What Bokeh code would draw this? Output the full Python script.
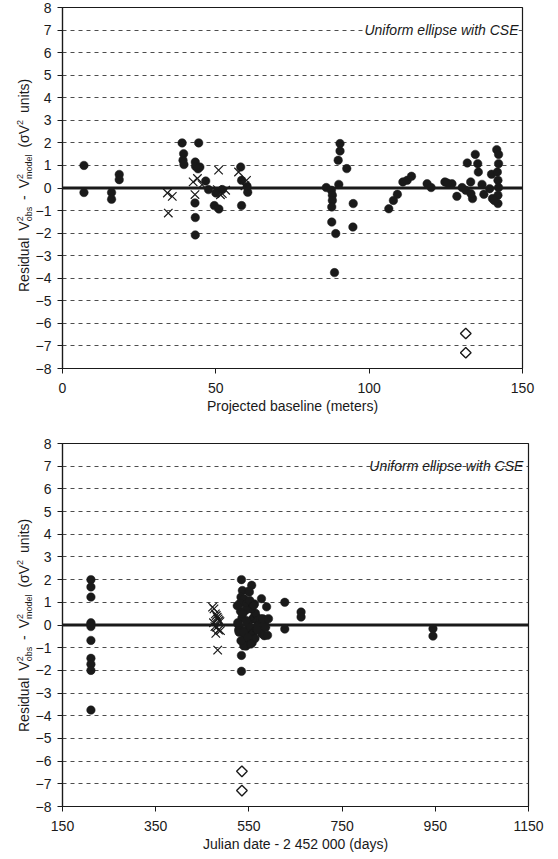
import numpy as np
from bokeh.plotting import figure
from bokeh.models import FixedTicker, Span, Label, Range1d, Div
from bokeh.layouts import column, row
from bokeh.embed import file_html
from bokeh.resources import INLINE

# ---------------- data ----------------
# top panel: projected baseline (m) vs residual
base_circ_x = [7, 7, 16, 16, 18.5, 18.5,
               39.0, 39.5, 39.3, 39.6, 44.4, 43.3, 43.4, 44.8, 44.2, 46.7, 47.6, 43.2,
               43.3, 43.3, 49.5, 51.0, 50.0, 52.1, 58.1, 58.4, 58.4, 60.2, 60.4,
               90.5, 90.5, 89.9, 92.7, 86.0, 87.7, 90.1, 88.0, 88.0, 87.8, 87.8, 89.1,
               88.7, 94.8, 94.7,
               106.4, 107.9, 109.2, 111.0, 112.4, 113.8, 118.9, 120.2, 124.7, 127.0,
               125.5, 128.6, 130.3, 132.0, 133.1, 131.5, 133.7, 134.6, 135.4, 135.6,
               133.2, 136.8, 137.4, 139.3, 139.9, 140.2, 141.6, 142.2, 142.2, 141.8,
               142.0, 142.2, 142.0, 142.0, 140.8]
base_circ_y = [1.0, -0.2, -0.2, -0.5, 0.6, 0.37,
               2.0, 1.52, 1.23, 1.04, 2.0, 1.15, 0.96, 0.93, 0.85, 0.31, -0.07, -0.66,
               -1.31, -2.08, -0.78, -0.93, -0.22, -0.07, 0.93, 0.34, -0.78, 0.07, -0.19,
               1.97, 1.64, 1.23, 0.86, 0.02, -0.1, 0.16, -0.32, -0.55, -0.84, -1.51, -2.02,
               -3.75, -0.69, -1.73,
               -0.92, -0.55, -0.28, 0.27, 0.34, 0.52, 0.19, 0.02, 0.27, 0.19,
               0.22, -0.37, 0.02, 1.11, 0.27, -0.1, -0.47, 1.49, 1.08, 0.71,
               -0.25, 0.16, -0.28, -0.03, 0.61, -0.47, 1.7, 1.49, 1.08, 0.71,
               0.34, 0.02, -0.32, -0.69, -0.55]
base_cross_x = [34.2, 35.8, 34.5, 42.6, 44.0, 43.2, 45.5, 50.9, 50.5, 52.1, 53.2, 51.5, 57.4, 60.0, 59.5]
base_cross_y = [-0.22, -0.37, -1.11, 0.27, 0.42, -0.29, 0.15, 0.79, -0.07, -0.25, -0.1, -0.3, 0.71, 0.34, 0.1]
base_dia_x = [131.5, 131.5]
base_dia_y = [-6.45, -7.3]

# bottom panel: Julian date - 2452000 vs residual
jd_circ_x = [211] * 11 + [
    534, 536, 533, 538, 556, 540, 531, 545, 548, 535, 530, 537, 534, 534, 541, 544,
    528, 550, 562, 566, 557, 570, 573,
    539, 546, 552, 558, 561, 564, 568, 571, 575, 579, 582, 577, 584, 577, 580, 586,
    583, 549, 552, 555, 542, 588, 592, 590, 532, 543, 551, 543, 527, 529, 533, 547,
    553, 559, 563, 567, 537, 544, 525, 526,
    539, 548, 554, 560,
    627, 627, 662, 662, 945, 945]
jd_circ_y = [2.0, 1.68, 1.23, 0.1, 0.03, -0.07, -0.68, -1.47, -1.73, -2.0, -3.75] + [
    2.0, 1.52, 1.23, 1.04, 1.75, 1.15, 0.96, 0.93, 0.85, 0.31, -0.07, -0.66, -1.34, -2.04, -0.78, -0.93,
    -0.22, -0.07, 0.93, 0.34, -0.78, 0.07, -0.19,
    -0.92, -0.55, -0.28, 0.27, 0.34, 0.52, 0.19, 0.02, 0.27, 0.19, 0.22, -0.37, 0.02, 1.16, 0.27, -0.1,
    -0.47, 1.49, 1.08, 0.71, -0.25, 0.8, 0.28, -0.45, 0.61, -0.47, 1.45, 0.65, 0.02, -0.32, -0.69, 0.1,
    -0.1, -0.35, -0.6, -0.2, 0.5, 0.2, 0.85, 0.1,
    -0.32, -0.55, -0.84, 0.86,
    1.0, -0.18, 0.57, 0.35, -0.16, -0.49]
jd_cross_x = [472, 475, 478, 480, 482, 484, 486, 488, 474, 477, 481, 485, 489, 479, 483]
jd_cross_y = [0.79, 0.71, 0.49, 0.42, 0.34, 0.27, 0.2, 0.15, 0.1, -0.07, -0.1, -0.22, -0.25, -0.37, -1.11]
jd_dia_x = [535, 535]
jd_dia_y = [-6.45, -7.3]

y_ticks = list(range(-8, 9))
grid_ticks = [t for t in range(-7, 8) if t != 0]
top_xticks = [0, 50, 100, 150]
bot_xticks = [150, 350, 550, 750, 950, 1150]
note_text = "Uniform ellipse with CSE"
top_xlabel = "Projected baseline (meters)"
bot_xlabel = "Julian date - 2 452 000 (days)"

FONT = "Liberation Sans"
INK = "#1a1a1a"
LW = 32  # width of the strip holding the rotated y title


def stack(top, bottom):
    return ('<span style="display:inline-block;vertical-align:-3px;font-size:9px;'
            f'line-height:9px;text-align:left;word-spacing:0">{top}<br>{bottom}</span>')


def sup(t):
    return f'<span style="font-size:9px;vertical-align:6px;line-height:0">{t}</span>'


y_title_html = ("Residual V" + stack("2", "obs") + " - V" + stack("2", "model") +
                " (σV" + sup("2") + " units)")


def title_div(height, start_y):
    html = (f'<div style="position:absolute;left:15.5px;top:{start_y}px;transform:rotate(-90deg);'
            f'transform-origin:0 0;white-space:nowrap;font-family:\'{FONT}\';font-size:14px;'
            f'line-height:16px;color:{INK};word-spacing:3px;">{y_title_html}</div>')
    return Div(text=html, width=LW, height=height, margin=(0, 0, 0, 0),
               styles={"overflow": "visible"})


def panel(xr, xticks, xlabel, cx, cy, kx, ky, dx, dy, height, bt, bb, br,
          note_x, note_bg):
    p = figure(width=558 - LW, height=height, x_range=Range1d(*xr), y_range=Range1d(-8, 8),
               output_backend="svg", toolbar_location=None,
               min_border_left=57 - LW, min_border_right=br, min_border_top=bt, min_border_bottom=bb)
    p.background_fill_color = "white"
    p.border_fill_color = "white"
    p.outline_line_color = INK
    p.outline_line_width = 1.2

    p.xaxis.ticker = FixedTicker(ticks=xticks)
    p.yaxis.ticker = FixedTicker(ticks=y_ticks)
    for ax in (p.xaxis, p.yaxis):
        ax.axis_line_color = INK
        ax.axis_line_width = 1.2
        ax.major_tick_line_color = INK
        ax.major_tick_in = 0
        ax.major_tick_out = 5
        ax.minor_tick_line_color = None
        ax.major_label_text_font = FONT
        ax.major_label_text_font_size = "14px"
        ax.major_label_text_color = INK
    p.yaxis.major_label_standoff = 6
    p.xaxis.major_label_standoff = 9
    p.xaxis.axis_label = xlabel
    p.xaxis.axis_label_text_font = FONT
    p.xaxis.axis_label_text_font_size = "14px"
    p.xaxis.axis_label_text_font_style = "normal"
    p.xaxis.axis_label_text_color = INK
    p.xaxis.axis_label_standoff = 2

    p.xgrid.grid_line_color = None
    p.ygrid.ticker = FixedTicker(ticks=grid_ticks)
    p.ygrid.grid_line_color = "#4d4d4d"
    p.ygrid.grid_line_width = 1
    p.ygrid.grid_line_dash = "4 4"

    p.add_layout(Span(location=0, dimension="width", line_color=INK, line_width=2.8))

    p.scatter(cx, cy, marker="circle", size=8.5, fill_color=INK, line_color=INK, line_width=0.5)
    p.scatter(kx, ky, marker="x", size=12, line_color=INK, line_width=1.2)
    p.scatter(dx, dy, marker="square", angle=np.pi / 4, size=7.5, fill_color="white",
              line_color=INK, line_width=1.4)

    p.add_layout(Label(x=note_x, y=7, text=note_text, text_align="right", text_baseline="middle",
                       text_font=FONT, text_font_style="italic", text_font_size="14px",
                       text_color=INK, background_fill_color=note_bg))
    return p


H1, H2 = 425, 434
p1 = panel((0, 150), top_xticks, top_xlabel, base_circ_x, base_circ_y, base_cross_x, base_cross_y,
           base_dia_x, base_dia_y, height=H1, bt=7, bb=57, br=36, note_x=148.7, note_bg="white")
p2 = panel((150, 1150), bot_xticks, bot_xlabel, jd_circ_x, jd_circ_y, jd_cross_x, jd_cross_y,
           jd_dia_x, jd_dia_y, height=H2, bt=18, bb=53, br=30, note_x=1139, note_bg=None)
d1 = title_div(H1, 292)
d2 = title_div(H2, 731.5 - H1)

layout = column(row(d1, p1), row(d2, p2))
open("out.html", "w").write(file_html(layout, INLINE))
